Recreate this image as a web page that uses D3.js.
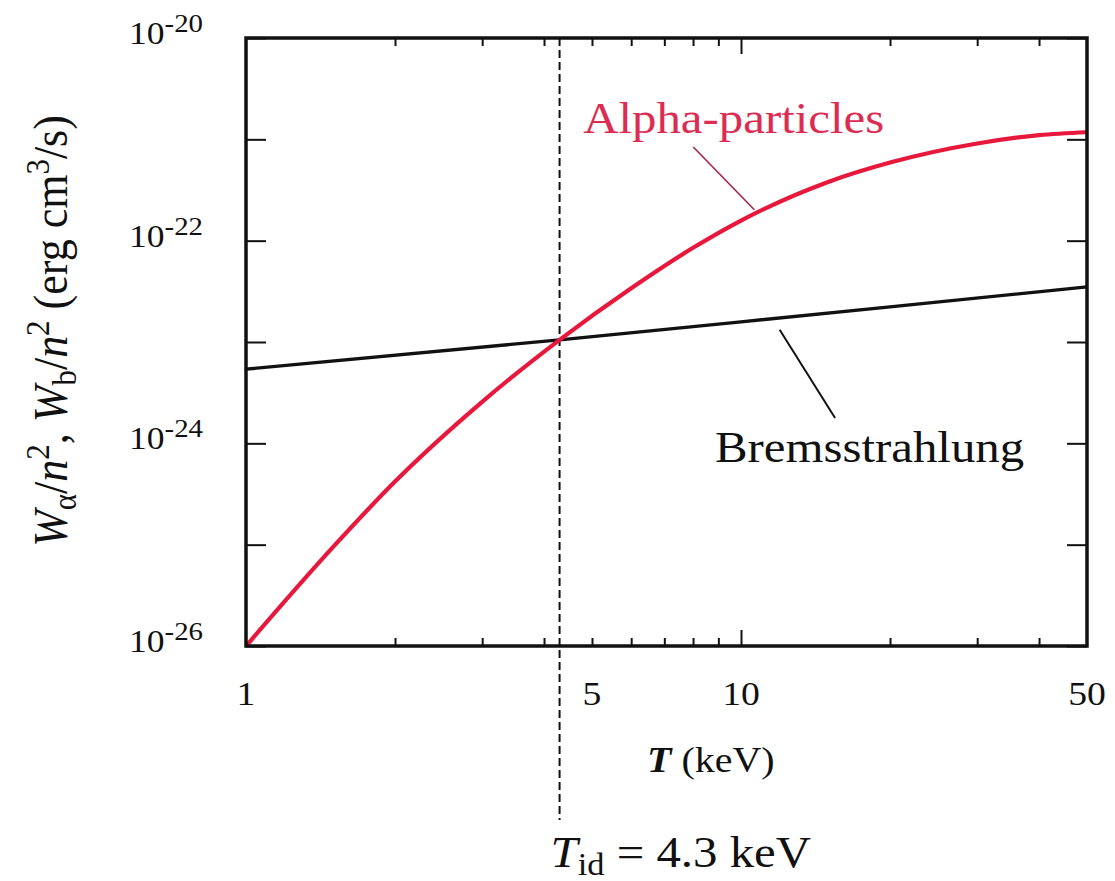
<!DOCTYPE html>
<html>
<head>
<meta charset="utf-8">
<script src="https://cdn.jsdelivr.net/npm/d3@7"></script>
<style>
  html, body { margin: 0; padding: 0; background: #fff; }
  svg { display: block; }
  text { font-family: "Liberation Serif", "Times New Roman", serif; fill: #111; }
</style>
</head>
<body>
<svg id="chart" width="1115" height="881"></svg>
<script>
// Alpha-particle heating power per n^2 vs temperature (keV)
const alphaT = [1, 1.5, 2, 3, 4.3, 6, 8, 10, 15, 20, 30, 40, 50];
const alphaW = [1e-26, 9.5e-26, 4.2e-25, 2.57e-24, 1.05e-23, 3.39e-23, 8.5e-23, 1.58e-22, 3.8e-22, 5.9e-22, 9.1e-22, 1.1e-21, 1.175e-21];

// Bremsstrahlung loss per n^2 vs temperature (keV)
const bremsT = [1, 4.3, 10, 20, 50];
const bremsW = [5.4e-24, 1.05e-23, 1.58e-23, 2.22e-23, 3.5e-23];

// Ignition temperature
const Tid = 4.3;

// Axis ticks
const xLabelTicks = [1, 5, 10, 50];
const xMinorTicks = [2, 3, 4, 5, 6, 7, 8, 9, 20, 30, 40];
const xMajorTicks = [10];
const yDecades = [-20, -21, -22, -23, -24, -25, -26];
const yLabelExps = [-20, -22, -24, -26];

// Callout annotations: [T, W] pairs
const alphaLeader = [[8.01, 8.4e-22], [10.64, 2.02e-22]];
const bremsLeader = [[11.97, 1.32e-23], [15.49, 1.78e-24]];
const alphaLabelAt = [4.8, 1.16e-21];
const bremsLabelAt = [8.86, 6.5e-25];

const svg = d3.select("#chart");
const plotL = 246, plotR = 1087, plotT = 38, plotB = 646;
const SX = 1.11; // horizontal glyph stretch

const x = d3.scaleLog().domain([1, 50]).range([plotL, plotR]);
const y = d3.scaleLog().domain([1e-26, 1e-20]).range([plotB, plotT]);

function stext(parent, px, py, anchor) {
  return parent.append("text")
    .attr("transform", `translate(${px},${py}) scale(${SX},1)`)
    .attr("text-anchor", anchor || "start");
}

// Ticks (inward) on all four sides
function styleAxis(g) {
  g.select(".domain").remove();
  g.selectAll(".tick line").attr("stroke", "#111").attr("stroke-width", 2);
  g.selectAll(".tick text").remove();
}
svg.append("g").attr("transform", `translate(0,${plotB})`)
  .call(d3.axisBottom(x).tickValues(xMinorTicks).tickSize(-8).tickFormat("")).call(styleAxis);
svg.append("g").attr("transform", `translate(0,${plotB})`)
  .call(d3.axisBottom(x).tickValues(xMajorTicks).tickSize(-16).tickFormat("")).call(styleAxis);
svg.append("g").attr("transform", `translate(0,${plotT})`)
  .call(d3.axisTop(x).tickValues(xMinorTicks).tickSize(-8).tickFormat("")).call(styleAxis);
svg.append("g").attr("transform", `translate(0,${plotT})`)
  .call(d3.axisTop(x).tickValues(xMajorTicks).tickSize(-16).tickFormat("")).call(styleAxis);
const yTickVals = yDecades.map(e => Math.pow(10, e));
svg.append("g").attr("transform", `translate(${plotL},0)`)
  .call(d3.axisLeft(y).tickValues(yTickVals).tickSize(-20).tickFormat("")).call(styleAxis);
svg.append("g").attr("transform", `translate(${plotR},0)`)
  .call(d3.axisRight(y).tickValues(yTickVals).tickSize(-20).tickFormat("")).call(styleAxis);

// Dashed ignition-temperature marker
svg.append("line")
  .attr("x1", x(Tid)).attr("x2", x(Tid))
  .attr("y1", plotT).attr("y2", 820)
  .attr("stroke", "#111").attr("stroke-width", 2)
  .attr("stroke-dasharray", "8,4");

// Curves
svg.append("path")
  .datum(bremsT.map((t, i) => [t, bremsW[i]]))
  .attr("d", d3.line().x(d => x(d[0])).y(d => y(d[1])))
  .attr("fill", "none").attr("stroke", "#111").attr("stroke-width", 3.4);
svg.append("path")
  .datum(alphaT.map((t, i) => [t, alphaW[i]]))
  .attr("d", d3.line().x(d => x(d[0])).y(d => y(d[1])).curve(d3.curveMonotoneX))
  .attr("fill", "none").attr("stroke", "#e8173c").attr("stroke-width", 4.2);

// Frame
svg.append("rect")
  .attr("x", plotL).attr("y", plotT)
  .attr("width", plotR - plotL).attr("height", plotB - plotT)
  .attr("fill", "none").attr("stroke", "#111").attr("stroke-width", 3.5);

// Callouts
svg.append("line")
  .attr("x1", x(alphaLeader[0][0])).attr("y1", y(alphaLeader[0][1]))
  .attr("x2", x(alphaLeader[1][0])).attr("y2", y(alphaLeader[1][1]))
  .attr("stroke", "#a8234a").attr("stroke-width", 1.6);
svg.append("line")
  .attr("x1", x(bremsLeader[0][0])).attr("y1", y(bremsLeader[0][1]))
  .attr("x2", x(bremsLeader[1][0])).attr("y2", y(bremsLeader[1][1]))
  .attr("stroke", "#111").attr("stroke-width", 2);
stext(svg, x(alphaLabelAt[0]), y(alphaLabelAt[1]))
  .style("font-size", "44px").style("fill", "#dc2c52")
  .text("Alpha-particles");
stext(svg, x(bremsLabelAt[0]), y(bremsLabelAt[1]))
  .style("font-size", "44px")
  .text("Bremsstrahlung");

// X tick labels
xLabelTicks.forEach(v => {
  stext(svg, x(v), 705, "middle").style("font-size", "34px").text(v);
});

// Y tick labels: 10^exp
yLabelExps.forEach(e => {
  const t = stext(svg, 203, y(Math.pow(10, e)) + 6, "end").style("font-size", "32px");
  t.append("tspan").text("10");
  t.append("tspan").attr("dy", -12).style("font-size", "26px").text(String(e));
});

// X axis title
const xt = stext(svg, 647, 772).style("font-size", "36px");
xt.append("tspan").style("font-style", "italic").style("font-weight", "bold").text("T");
xt.append("tspan").text(" (keV)");

// Ignition temperature label
const tl = stext(svg, x(Tid) - 9, 867).style("font-size", "44px");
tl.append("tspan").style("font-style", "italic").text("T");
tl.append("tspan").attr("dy", 8).style("font-size", "31px").text("id");
tl.append("tspan").attr("dy", -8).text(" = 4.3 keV");

// Y axis title (rotated)
const yt = svg.append("text")
  .attr("transform", `translate(67,331) scale(${SX},1) rotate(-90)`)
  .attr("text-anchor", "middle")
  .style("font-size", "44px");
yt.append("tspan").style("font-style", "italic").text("W");
yt.append("tspan").attr("dy", 8).style("font-size", "31px").text("α");
yt.append("tspan").attr("dy", -8).text("/");
yt.append("tspan").style("font-style", "italic").text("n");
yt.append("tspan").attr("dy", -16).style("font-size", "31px").text("2");
yt.append("tspan").attr("dy", 16).text(", ");
yt.append("tspan").style("font-style", "italic").text("W");
yt.append("tspan").attr("dy", 8).style("font-size", "31px").text("b");
yt.append("tspan").attr("dy", -8).text("/");
yt.append("tspan").style("font-style", "italic").text("n");
yt.append("tspan").attr("dy", -16).style("font-size", "31px").text("2");
yt.append("tspan").attr("dy", 16).text(" (erg cm");
yt.append("tspan").attr("dy", -16).style("font-size", "31px").text("3");
yt.append("tspan").attr("dy", 16).text("/s)");
</script>
</body>
</html>
